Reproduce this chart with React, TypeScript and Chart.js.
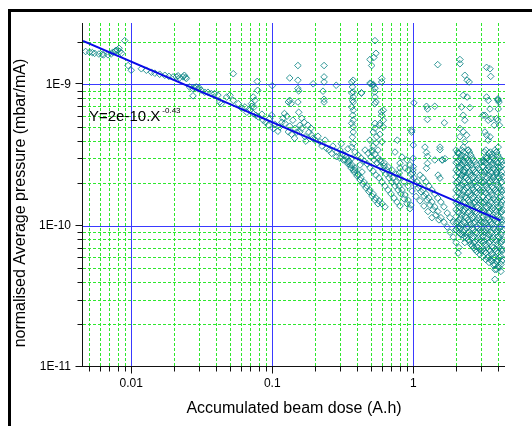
import React, { useEffect, useRef } from "react";
import { Chart, registerables } from "chart.js";

Chart.register(...registerables);

const FONT = "'Liberation Sans', Arial, sans-serif";

const xTickValues = [0.01, 0.1, 1];
const xTickLabels = ["0.01", "0.1", "1"];
const yTickValues = [1e-11, 1e-10, 1e-9];
const yTickLabels = ["1E-11", "1E-10", "1E-9"];
const xRange = [0.00455, 4.47];
const yRange = [1e-11, 2.72e-9];

const xTitle = "Accumulated beam dose (A.h)";
const yTitle = "normalised Average pressure (mbar/mA)";

const fitDose = [0.00455, 4.15];
const fitPressure = [2.03e-9, 1.09e-10];
const fitLabel = "Y=2e-10.X";
const fitExponent = "-0.43";

// [dose, pressure]
const earlyPoints: [number, number][] = [
  [0.00475, 1.71e-9], [0.00507, 1.69e-9], [0.0053, 1.68e-9], [0.0055, 1.66e-9], [0.0059, 1.64e-9],
  [0.0062, 1.63e-9], [0.00637, 1.62e-9], [0.00684, 1.62e-9], [0.0072, 1.64e-9], [0.0074, 1.69e-9],
  [0.0077, 1.72e-9], [0.0078, 1.74e-9], [0.008, 1.75e-9], [0.0082, 1.8e-9], [0.0083, 1.71e-9],
  [0.00855, 1.66e-9], [0.009, 2.04e-9], [0.0095, 1.36e-9], [0.01, 1.26e-9],
  [0.0118, 1.29e-9], [0.0128, 1.26e-9], [0.0139, 1.22e-9], [0.0147, 1.2e-9], [0.0159, 1.18e-9],
  [0.0173, 1.16e-9], [0.0185, 1.14e-9], [0.0198, 1.13e-9], [0.0209, 1.13e-9], [0.0215, 1.15e-9],
  [0.022, 1.11e-9], [0.0233, 1.13e-9], [0.0238, 1.16e-9], [0.0243, 1.12e-9], [0.0246, 1.1e-9],
  [0.0259, 9.6e-10], [0.0274, 9.3e-10], [0.028, 9.5e-10], [0.0289, 9.6e-10], [0.0297, 9.3e-10],
  [0.0305, 9.4e-10], [0.0313, 9.1e-10], [0.0274, 8.3e-10], [0.0332, 8.8e-10], [0.035, 8.8e-10],
  [0.0369, 8.6e-10], [0.039, 8.6e-10], [0.0412, 8.4e-10], [0.0424, 7.5e-10], [0.0435, 7.3e-10],
];

const bandPoints: [number, number][] = [
  [0.0475, 8.14e-10], [0.0501, 8.37e-10], [0.0529, 7.71e-10], [0.0574, 7.31e-10], [0.0608, 6.77e-10],
  [0.064, 6.92e-10], [0.066, 6.35e-10], [0.0694, 6.56e-10], [0.0717, 6.99e-10], [0.0733, 6.22e-10],
  [0.0765, 6.05e-10], [0.0796, 5.89e-10], [0.0844, 6.15e-10], [0.0863, 5.58e-10], [0.0901, 5.4e-10],
  [0.0937, 5.15e-10], [0.0961, 5.76e-10], [0.1017, 4.88e-10], [0.104, 5.23e-10], [0.1096, 4.66e-10],
  [0.113, 5.0e-10], [0.117, 5.4e-10], [0.119, 5.76e-10], [0.123, 5.29e-10], [0.127, 5.95e-10],
  [0.13, 4.62e-10], [0.133, 5.06e-10], [0.137, 4.44e-10], [0.14, 5.58e-10], [0.144, 4.16e-10],
  [0.145, 4.88e-10], [0.149, 4.59e-10], [0.154, 6.35e-10], [0.157, 4.62e-10], [0.157, 5.14e-10],
  [0.162, 4.9e-10], [0.162, 5.76e-10], [0.168, 5.4e-10], [0.171, 4.26e-10], [0.173, 3.97e-10],
  [0.179, 5.14e-10], [0.182, 4.59e-10], [0.188, 4.9e-10], [0.19, 4.37e-10], [0.194, 4.16e-10],
  [0.201, 4.03e-10], [0.211, 4.3e-10], [0.218, 3.92e-10], [0.225, 3.66e-10], [0.237, 4.03e-10],
  [0.243, 3.52e-10], [0.253, 3.43e-10], [0.264, 3.25e-10], [0.269, 3.66e-10], [0.286, 3.08e-10],
  [0.287, 3.32e-10], [0.302, 3.01e-10], [0.309, 3.8e-10], [0.319, 2.92e-10], [0.328, 3.16e-10],
  [0.344, 2.83e-10], [0.344, 3.5e-10], [0.356, 2.69e-10], [0.368, 3.01e-10], [0.375, 2.48e-10],
  [0.386, 2.56e-10], [0.407, 2.28e-10], [0.419, 2.69e-10], [0.433, 2.4e-10],
];

const upperPoints: [number, number][] = [
  [0.0529, 1.19e-9], [0.0782, 1.05e-9], [0.0788, 9.08e-10], [0.0733, 8.14e-10], [0.0753, 7.71e-10],
  [0.0713, 7.31e-10], [0.0743, 6.92e-10], [0.1, 9.8e-10], [0.099, 6.05e-10], [0.122, 6.22e-10],
  [0.133, 1.11e-9], [0.152, 1.36e-9], [0.152, 1.07e-9], [0.152, 9.35e-10], [0.154, 9.0e-10],
  [0.133, 7.71e-10], [0.13, 7.5e-10], [0.136, 7.31e-10], [0.152, 7.5e-10], [0.195, 1.01e-9],
  [0.233, 1.36e-9], [0.233, 1.13e-9], [0.233, 1.04e-9], [0.229, 8.95e-10], [0.233, 7.85e-10],
  [0.233, 7.5e-10], [0.284, 9.86e-10], [0.428, 8.7e-10],
  [0.366, 1.04e-9], [0.37, 9.6e-10], [0.366, 8.7e-10], [0.37, 7.71e-10], [0.366, 6.92e-10],
  [0.372, 6.05e-10], [0.366, 5.3e-10], [0.37, 4.23e-10], [0.366, 3.6e-10], [0.375, 1.07e-9],
  [0.375, 8.83e-10], [0.375, 8.14e-10], [0.375, 7.5e-10], [0.375, 6.56e-10], [0.375, 5.58e-10],
  [0.375, 5.0e-10], [0.375, 4.6e-10], [0.375, 3.82e-10],
  [0.535, 2.04e-9], [0.544, 1.66e-9], [0.525, 1.55e-9], [0.493, 1.5e-9], [0.507, 1.36e-9],
  [0.597, 1.1e-9], [0.597, 1.04e-9], [0.493, 1.02e-9], [0.52, 1.0e-9], [0.535, 9.4e-10],
  [0.535, 8.14e-10], [0.544, 7.5e-10], [0.43, 8.7e-10], [0.5, 1.01e-9], [0.518, 9.86e-10],
  [0.533, 8.83e-10], [0.533, 7.31e-10], [0.593, 6.4e-10], [0.613, 6.56e-10], [0.597, 6.05e-10],
  [0.613, 5.58e-10], [0.581, 5.3e-10], [0.613, 5.0e-10], [0.535, 5.3e-10], [0.535, 4.9e-10],
  [0.52, 4.6e-10], [0.55, 4.26e-10], [0.493, 4.03e-10], [0.518, 3.66e-10], [0.562, 3.43e-10],
  [0.51, 3.32e-10], [0.544, 3.85e-10], [0.58, 4.43e-10], [0.6, 3.92e-10], [0.578, 5.14e-10],
  [1.49, 1.38e-9], [1.01, 7.4e-10], [1.24, 7.0e-10], [1.26, 6.7e-10], [1.42, 7.0e-10],
  [1.66, 5.35e-10], [1.26, 5.65e-10], [0.974, 4.74e-10], [0.974, 4.6e-10], [1.0, 3.72e-10],
  [0.77, 4.03e-10], [1.21, 3.6e-10], [1.24, 3.3e-10], [1.26, 3.1e-10], [1.26, 2.76e-10],
  [1.24, 2.55e-10], [1.546, 3.6e-10], [1.546, 3.45e-10], [1.68, 2.98e-10], [1.61, 2.92e-10],
  [0.805, 2.77e-10], [0.805, 2.56e-10], [0.795, 2.36e-10], [1.0, 3.0e-10], [1.0, 2.62e-10],
  [0.99, 2.36e-10], [1.5, 2.28e-10], [1.546, 2.17e-10], [0.947, 2.69e-10], [0.995, 2.48e-10],
  [1.42, 2.92e-10], [1.6, 2.92e-10], [0.742, 3.32e-10], [0.832, 3.06e-10], [0.902, 2.92e-10],
  [2.143, 1.5e-9], [2.143, 1.4e-9], [2.32, 1.16e-9], [2.41, 1.07e-9], [2.49, 1.04e-9],
  [3.31, 1.32e-9], [3.5, 1.29e-9], [3.54, 1.14e-9],
  [2.26, 8.37e-10], [2.41, 8.14e-10], [2.2, 6.92e-10], [2.52, 6.85e-10], [2.26, 6.05e-10],
  [2.32, 5.58e-10], [2.14, 4.88e-10], [2.26, 4.62e-10], [2.39, 4.37e-10], [2.14, 4.26e-10],
  [2.32, 3.92e-10], [2.26, 3.6e-10], [2.46, 3.43e-10], [2.08, 3.26e-10], [2.26, 2.92e-10],
  [2.46, 2.77e-10], [2.14, 2.6e-10], [2.32, 2.4e-10], [2.2, 2.28e-10],
  [3.31, 8.14e-10], [3.4, 7.71e-10], [3.5, 6.7e-10], [4.0, 7.71e-10], [4.0, 6.7e-10],
  [3.22, 6.05e-10], [3.9, 5.72e-10], [3.4, 5.58e-10], [3.22, 4.6e-10], [3.31, 4.37e-10],
  [3.5, 4.26e-10], [3.4, 4.03e-10], [4.0, 3.6e-10], [3.9, 3.33e-10], [3.6, 3.2e-10],
  [3.31, 3.0e-10], [3.13, 2.84e-10], [3.69, 2.77e-10], [4.0, 2.6e-10], [3.4, 2.48e-10],
  [3.9, 2.36e-10], [3.69, 2.22e-10], [3.98, 7.9e-10], [4.05, 7.5e-10], [3.98, 7.8e-10],
  [3.12, 6.05e-10], [3.55, 5.72e-10], [3.98, 5.58e-10], [4.08, 5.14e-10], [3.75, 5.14e-10],
];

const streakPoints: [number, number][] = [
  [0.302, 3.43e-10], [0.317, 3.21e-10], [0.333, 3.06e-10], [0.35, 2.87e-10], [0.368, 2.69e-10],
  [0.386, 2.48e-10], [0.406, 2.32e-10], [0.426, 2.18e-10], [0.447, 2.04e-10], [0.47, 1.91e-10],
  [0.493, 1.79e-10], [0.518, 1.68e-10], [0.544, 1.57e-10], [0.571, 1.5e-10], [0.6, 1.43e-10],
  [0.63, 1.36e-10],
  [0.386, 3.32e-10], [0.406, 3.16e-10], [0.426, 3.01e-10], [0.447, 2.87e-10], [0.47, 2.74e-10],
  [0.493, 2.56e-10], [0.518, 2.44e-10], [0.544, 2.28e-10], [0.571, 2.18e-10], [0.6, 2.04e-10],
  [0.63, 1.91e-10], [0.662, 1.79e-10], [0.695, 1.68e-10], [0.73, 1.57e-10], [0.767, 1.47e-10],
  [0.805, 1.38e-10],
  [0.455, 3.43e-10], [0.478, 3.26e-10], [0.501, 3.06e-10], [0.527, 2.92e-10], [0.553, 2.79e-10],
  [0.581, 2.61e-10], [0.61, 2.48e-10], [0.641, 2.32e-10], [0.673, 2.18e-10], [0.707, 2.04e-10],
  [0.742, 1.91e-10], [0.78, 1.79e-10], [0.818, 1.68e-10], [0.86, 1.55e-10], [0.903, 1.43e-10],
  [0.947, 1.32e-10],
  [0.581, 2.92e-10], [0.62, 2.79e-10], [0.662, 2.61e-10], [0.707, 2.48e-10], [0.755, 2.32e-10],
  [0.805, 2.18e-10], [0.86, 2.04e-10], [0.918, 1.91e-10], [0.979, 1.76e-10], [1.045, 1.61e-10],
  [1.115, 1.5e-10], [1.19, 1.38e-10], [1.27, 1.26e-10], [1.355, 1.14e-10],
  [0.874, 2.56e-10], [0.918, 2.48e-10], [0.963, 2.32e-10], [1.011, 2.18e-10], [1.063, 2.04e-10],
  [1.115, 1.91e-10], [1.17, 1.79e-10], [1.23, 1.68e-10], [1.29, 1.57e-10], [1.355, 1.47e-10],
  [1.42, 1.36e-10], [1.49, 1.26e-10], [1.57, 1.14e-10], [1.65, 1.06e-10], [1.74, 9.8e-11],
  [1.82, 9.0e-11], [1.92, 8.3e-11], [2.01, 7.6e-11], [2.11, 7.0e-11], [2.08, 6.4e-11],
  [1.115, 2.28e-10], [1.17, 2.18e-10], [1.23, 2.04e-10], [1.29, 1.91e-10], [1.355, 1.79e-10],
  [1.42, 1.68e-10], [1.49, 1.57e-10], [1.57, 1.47e-10], [1.65, 1.36e-10], [1.74, 1.23e-10],
  [1.82, 1.14e-10], [1.92, 1.06e-10], [2.01, 9.4e-11],
  [0.328, 2.92e-10], [0.344, 2.74e-10], [0.362, 2.56e-10], [0.38, 2.4e-10], [0.399, 2.25e-10],
  [0.419, 2.11e-10], [0.44, 1.97e-10], [0.462, 1.85e-10], [0.485, 1.74e-10], [0.51, 1.62e-10],
  [0.535, 1.52e-10], [0.562, 1.43e-10],
  [0.51, 3.43e-10], [0.535, 3.21e-10], [0.562, 3.01e-10], [0.59, 2.83e-10], [0.62, 2.65e-10],
  [0.651, 2.48e-10], [0.684, 2.32e-10], [0.718, 2.18e-10], [0.755, 2.04e-10], [0.793, 1.91e-10],
  [0.832, 1.79e-10], [0.874, 1.65e-10], [0.918, 1.52e-10], [0.963, 1.4e-10],
  [0.979, 2.11e-10], [1.028, 1.97e-10], [1.08, 1.85e-10], [1.134, 1.74e-10], [1.19, 1.62e-10],
  [1.25, 1.52e-10], [1.312, 1.4e-10], [1.378, 1.3e-10], [1.447, 1.19e-10], [1.52, 1.1e-10],
];

// dense block after 2 A.h: [dose, pressures]
const blockColumns: [number, number[]][] = [
  [2.01, [3.43e-10, 3.06e-10, 2.79e-10, 2.48e-10, 2.22e-10, 2.01e-10, 1.79e-10, 1.6e-10, 1.45e-10, 1.3e-10, 1.16e-10, 1.05e-10, 9.37e-11]],
  [2.06, [3.32e-10, 2.83e-10, 2.4e-10, 2.04e-10, 1.74e-10, 1.47e-10, 1.26e-10, 1.06e-10, 9.65e-11]],
  [2.11, [3.26e-10, 2.92e-10, 2.61e-10, 2.36e-10, 2.11e-10, 1.88e-10, 1.71e-10, 1.52e-10, 1.36e-10, 1.24e-10, 1.1e-10, 9.8e-11, 8.9e-11]],
  [2.16, [3.01e-10, 2.56e-10, 2.18e-10, 1.85e-10, 1.57e-10, 1.34e-10, 1.14e-10, 9.65e-11, 8.75e-11]],
  [2.21, [3.43e-10, 3.16e-10, 2.69e-10, 2.28e-10, 1.94e-10, 1.65e-10, 1.4e-10, 1.19e-10, 1.02e-10, 8.64e-11]],
  [2.27, [3.32e-10, 2.83e-10, 2.4e-10, 2.04e-10, 1.74e-10, 1.47e-10, 1.26e-10, 1.06e-10, 9.0e-11, 8.2e-11]],
  [2.32, [3.06e-10, 2.79e-10, 2.48e-10, 2.22e-10, 2.01e-10, 1.79e-10, 1.6e-10, 1.45e-10, 1.3e-10, 1.16e-10, 1.05e-10, 9.37e-11, 8.4e-11, 7.6e-11]],
  [2.38, [3.01e-10, 2.56e-10, 2.18e-10, 1.85e-10, 1.57e-10, 1.34e-10, 1.14e-10, 9.65e-11, 8.2e-11]],
  [2.44, [3.43e-10, 2.92e-10, 2.61e-10, 2.36e-10, 2.11e-10, 1.88e-10, 1.71e-10, 1.52e-10, 1.36e-10, 1.24e-10, 1.1e-10, 9.8e-11, 8.9e-11, 7.97e-11]],
  [2.5, [3.32e-10, 2.83e-10, 2.4e-10, 2.04e-10, 1.74e-10, 1.47e-10, 1.26e-10, 1.06e-10, 9.0e-11, 7.75e-11]],
  [2.56, [3.16e-10, 2.69e-10, 2.28e-10, 1.94e-10, 1.65e-10, 1.4e-10, 1.19e-10, 1.02e-10, 8.64e-11, 7.35e-11]],
  [2.62, [3.01e-10, 2.56e-10, 2.18e-10, 1.85e-10, 1.57e-10, 1.34e-10, 1.14e-10, 9.65e-11, 8.2e-11, 7.2e-11]],
  [2.68, [2.92e-10, 2.48e-10, 2.22e-10, 2.01e-10, 1.79e-10, 1.6e-10, 1.45e-10, 1.3e-10, 1.16e-10, 1.05e-10, 9.37e-11, 8.4e-11, 7.6e-11, 7.0e-11]],
  [2.75, [2.83e-10, 2.4e-10, 2.04e-10, 1.74e-10, 1.47e-10, 1.26e-10, 1.06e-10, 9.0e-11, 7.75e-11, 6.78e-11]],
  [2.82, [2.69e-10, 2.36e-10, 2.11e-10, 1.88e-10, 1.71e-10, 1.52e-10, 1.36e-10, 1.24e-10, 1.1e-10, 9.8e-11, 8.9e-11, 7.97e-11, 7.1e-11, 6.55e-11]],
  [2.89, [2.56e-10, 2.18e-10, 1.85e-10, 1.57e-10, 1.34e-10, 1.14e-10, 9.65e-11, 8.2e-11, 7.0e-11]],
  [2.97, [2.48e-10, 2.11e-10, 1.79e-10, 1.52e-10, 1.3e-10, 1.1e-10, 9.37e-11, 7.97e-11, 6.78e-11, 6.25e-11]],
  [3.04, [2.83e-10, 2.4e-10, 2.04e-10, 1.74e-10, 1.47e-10, 1.26e-10, 1.06e-10, 9.0e-11, 7.75e-11, 6.6e-11]],
  [3.12, [2.92e-10, 2.61e-10, 2.28e-10, 2.01e-10, 1.79e-10, 1.6e-10, 1.45e-10, 1.3e-10, 1.16e-10, 1.05e-10, 9.37e-11, 8.4e-11, 7.6e-11, 6.78e-11, 6.05e-11]],
  [3.19, [3.32e-10, 2.83e-10, 2.4e-10, 2.04e-10, 1.74e-10, 1.47e-10, 1.26e-10, 1.06e-10, 9.0e-11, 7.75e-11, 6.6e-11]],
  [3.27, [3.43e-10, 3.06e-10, 2.79e-10, 2.48e-10, 2.22e-10, 1.94e-10, 1.71e-10, 1.52e-10, 1.36e-10, 1.19e-10, 1.05e-10, 9.37e-11, 8.4e-11, 7.35e-11, 6.45e-11, 5.76e-11]],
  [3.35, [3.01e-10, 2.56e-10, 2.18e-10, 1.85e-10, 1.57e-10, 1.34e-10, 1.14e-10, 9.65e-11, 8.2e-11, 7.0e-11, 5.95e-11]],
  [3.44, [3.26e-10, 2.92e-10, 2.61e-10, 2.28e-10, 2.01e-10, 1.79e-10, 1.6e-10, 1.4e-10, 1.24e-10, 1.1e-10, 9.8e-11, 8.64e-11, 7.6e-11, 6.78e-11, 6.05e-11, 5.5e-11]],
  [3.52, [3.32e-10, 2.83e-10, 2.4e-10, 2.04e-10, 1.74e-10, 1.47e-10, 1.26e-10, 1.06e-10, 9.0e-11, 7.75e-11, 6.6e-11, 5.76e-11]],
  [3.61, [3.06e-10, 2.69e-10, 2.36e-10, 2.11e-10, 1.88e-10, 1.65e-10, 1.45e-10, 1.3e-10, 1.16e-10, 1.02e-10, 8.9e-11, 7.97e-11, 7.1e-11, 6.25e-11, 5.6e-11]],
  [3.7, [3.01e-10, 2.56e-10, 2.18e-10, 1.85e-10, 1.57e-10, 1.34e-10, 1.14e-10, 9.65e-11, 8.2e-11, 7.0e-11, 5.95e-11, 5.25e-11]],
  [3.79, [3.43e-10, 2.92e-10, 2.48e-10, 2.11e-10, 1.79e-10, 1.52e-10, 1.3e-10, 1.1e-10, 9.37e-11, 7.97e-11, 6.78e-11, 5.95e-11, 5.31e-11, 4.9e-11, 4.17e-11]],
  [3.89, [3.32e-10, 2.83e-10, 2.4e-10, 2.04e-10, 1.74e-10, 1.47e-10, 1.26e-10, 1.06e-10, 9.0e-11, 7.75e-11, 6.6e-11, 5.6e-11, 4.9e-11]],
  [3.98, [3.16e-10, 2.79e-10, 2.48e-10, 2.22e-10, 1.94e-10, 1.71e-10, 1.52e-10, 1.36e-10, 1.19e-10, 1.05e-10, 9.37e-11, 8.4e-11, 7.35e-11, 6.45e-11, 5.76e-11, 5.15e-11]],
  [4.08, [3.01e-10, 2.56e-10, 2.18e-10, 1.85e-10, 1.57e-10, 1.34e-10, 1.14e-10, 9.65e-11, 8.2e-11, 7.0e-11, 5.95e-11, 5.05e-11]],
  [4.18, [2.92e-10, 2.61e-10, 2.28e-10, 2.01e-10, 1.79e-10, 1.6e-10, 1.4e-10, 1.24e-10, 1.1e-10, 9.8e-11, 8.64e-11, 7.6e-11, 6.78e-11, 6.05e-11, 5.31e-11, 4.75e-11]],
  [4.25, [2.83e-10, 2.4e-10, 2.04e-10, 1.74e-10, 1.47e-10, 1.26e-10, 1.06e-10, 9.0e-11, 7.75e-11, 6.6e-11, 5.6e-11]],
  [4.32, [2.69e-10, 2.22e-10, 1.79e-10, 1.52e-10, 1.3e-10, 1.1e-10, 9.37e-11, 7.97e-11, 6.78e-11, 5.76e-11]],
];

function minorValues(e0: number, e1: number): number[] {
  const out: number[] = [];
  for (let e = e0; e <= e1; e++) {
    for (let m = 2; m <= 9; m++) out.push(m * Math.pow(10, e));
  }
  return out;
}

const decorPlugin = {
  id: "originDecor",
  beforeDatasetsDraw(chart: any) {
    const { ctx, chartArea: a } = chart;
    const xs = chart.scales.x;
    const ys = chart.scales.y;
    ctx.save();
    ctx.lineWidth = 1;
    ctx.strokeStyle = "#2ee82e";
    ctx.setLineDash([3, 2]);
    ctx.beginPath();
    for (const v of minorValues(-3, 0)) {
      if (v < xRange[0] || v > xRange[1]) continue;
      const p = Math.round(xs.getPixelForValue(v)) + 0.5;
      ctx.moveTo(p, a.top);
      ctx.lineTo(p, a.bottom);
    }
    for (const v of minorValues(-11, -9)) {
      if (v < yRange[0] || v > yRange[1]) continue;
      const p = Math.round(ys.getPixelForValue(v)) + 0.5;
      ctx.moveTo(a.left, p);
      ctx.lineTo(a.right, p);
    }
    ctx.stroke();
    ctx.setLineDash([]);
    ctx.strokeStyle = "#3a3aff";
    ctx.beginPath();
    for (const v of xTickValues) {
      const p = Math.round(xs.getPixelForValue(v)) + 0.5;
      ctx.moveTo(p, a.top);
      ctx.lineTo(p, a.bottom);
    }
    for (const v of yTickValues) {
      if (v <= yRange[0]) continue;
      const p = Math.round(ys.getPixelForValue(v)) + 0.5;
      ctx.moveTo(a.left, p);
      ctx.lineTo(a.right, p);
    }
    ctx.stroke();
    ctx.restore();
  },
  afterDatasetsDraw(chart: any) {
    const { ctx, chartArea: a } = chart;
    ctx.save();
    ctx.fillStyle = "#000";
    ctx.textBaseline = "alphabetic";
    ctx.textAlign = "left";
    ctx.font = `15px ${FONT}`;
    const tx = a.left + 6;
    ctx.fillText(fitLabel, tx, a.top + 98);
    const w = ctx.measureText(fitLabel).width;
    ctx.font = `8px ${FONT}`;
    ctx.fillText(fitExponent, tx + w + 2, a.top + 90);
    ctx.restore();
  },
  afterDraw(chart: any) {
    const { ctx, chartArea: a } = chart;
    const xs = chart.scales.x;
    const ys = chart.scales.y;
    ctx.save();
    ctx.strokeStyle = "#111";
    ctx.lineWidth = 1;
    const ax = Math.round(a.left) - 0.5;
    const ay = Math.round(a.bottom) - 0.5;
    ctx.beginPath();
    ctx.moveTo(ax, a.top);
    ctx.lineTo(ax, ay + 0.5);
    ctx.moveTo(ax - 0.5, ay);
    ctx.lineTo(a.right, ay);
    for (const v of xTickValues) {
      const p = Math.round(xs.getPixelForValue(v)) + 0.5;
      ctx.moveTo(p, ay);
      ctx.lineTo(p, ay + 7);
    }
    for (const v of minorValues(-3, 0)) {
      if (v < xRange[0] || v > xRange[1]) continue;
      const p = Math.round(xs.getPixelForValue(v)) + 0.5;
      ctx.moveTo(p, ay);
      ctx.lineTo(p, ay + 5);
    }
    for (const v of yTickValues) {
      const p = Math.round(ys.getPixelForValue(v)) - 0.5;
      ctx.moveTo(ax, p);
      ctx.lineTo(ax - 7, p);
    }
    for (const v of minorValues(-11, -9)) {
      if (v < yRange[0] || v > yRange[1]) continue;
      const p = Math.round(ys.getPixelForValue(v)) + 0.5;
      ctx.moveTo(ax, p);
      ctx.lineTo(ax - 5, p);
    }
    ctx.stroke();

    // axis titles
    ctx.fillStyle = "#000";
    ctx.font = `16px ${FONT}`;
    ctx.textAlign = "center";
    ctx.textBaseline = "middle";
    ctx.fillText(xTitle, (a.left + a.right) / 2, 409);
    ctx.translate(21, 203);
    ctx.rotate(-Math.PI / 2);
    ctx.fillText(yTitle, 0, 0);
    ctx.restore();
  },
};

export default function App() {
  const ref = useRef<HTMLCanvasElement | null>(null);

  useEffect(() => {
    if (!ref.current) return;
    const toXY = (arr: [number, number][]) => arr.map(([x, y]) => ({ x, y }));
    const blockXY = blockColumns.flatMap(([d, ps]) => ps.map((p) => ({ x: d, y: p })));
    const markerData = [
      ...toXY(earlyPoints),
      ...toXY(bandPoints),
      ...toXY(upperPoints),
      ...toXY(streakPoints),
      ...blockXY,
    ];
    const fitData = fitDose.map((x, i) => ({ x, y: fitPressure[i] }));
    const teal = "rgba(0,128,128,0.8)";

    const chart = new Chart(ref.current, {
      type: "scatter",
      data: {
        datasets: [
          {
            label: "fit",
            data: fitData,
            showLine: true,
            borderColor: "#0a0ae8",
            backgroundColor: "#0a0ae8",
            borderWidth: 2,
            pointRadius: 0,
            order: 0,
          } as any,
          {
            label: "pressure",
            data: markerData,
            pointStyle: "rectRot",
            pointRadius: 3.3,
            pointBorderWidth: 1,
            borderColor: teal,
            pointBorderColor: teal,
            backgroundColor: "rgba(0,0,0,0)",
            pointBackgroundColor: "rgba(0,0,0,0)",
            order: 1,
          } as any,
        ],
      },
      options: {
        responsive: false,
        animation: false,
        devicePixelRatio: 1,
        events: [],
        layout: { padding: { top: 23, right: 27, left: 0, bottom: 0 } },
        plugins: { legend: { display: false }, tooltip: { enabled: false } },
        scales: {
          x: {
            type: "logarithmic",
            position: "bottom",
            min: xRange[0],
            max: xRange[1],
            grid: { display: false, drawTicks: false },
            border: { display: false },
            afterBuildTicks: (s: any) => {
              s.ticks = xTickValues.map((v) => ({ value: v }));
            },
            afterFit: (s: any) => {
              s.height = 59;
            },
            ticks: {
              autoSkip: false,
              maxRotation: 0,
              padding: 9,
              color: "#000",
              font: { family: FONT, size: 12 },
              callback: (_v: any, i: number) => xTickLabels[i],
            },
            title: { display: false },
          },
          y: {
            type: "logarithmic",
            position: "left",
            min: yRange[0],
            max: yRange[1],
            grid: { display: false, drawTicks: false },
            border: { display: false },
            afterBuildTicks: (s: any) => {
              s.ticks = yTickValues.map((v) => ({ value: v }));
            },
            afterFit: (s: any) => {
              s.width = 83;
            },
            ticks: {
              autoSkip: false,
              padding: 12,
              color: "#000",
              font: { family: FONT, size: 12 },
              callback: (_v: any, i: number) => yTickLabels[i],
            },
            title: { display: false },
          },
        },
      } as any,
      plugins: [decorPlugin],
    });
    return () => chart.destroy();
  }, []);

  return (
    <div>
      <div
        style={{
          position: "absolute",
          left: 8,
          top: 9,
          width: 524,
          height: 417,
          borderTop: "3px solid #000",
          borderLeft: "3px solid #000",
          boxSizing: "border-box",
        }}
      />
      <canvas
        ref={ref}
        width={532}
        height={426}
        style={{ position: "absolute", left: 0, top: 0 }}
      />
    </div>
  );
}
